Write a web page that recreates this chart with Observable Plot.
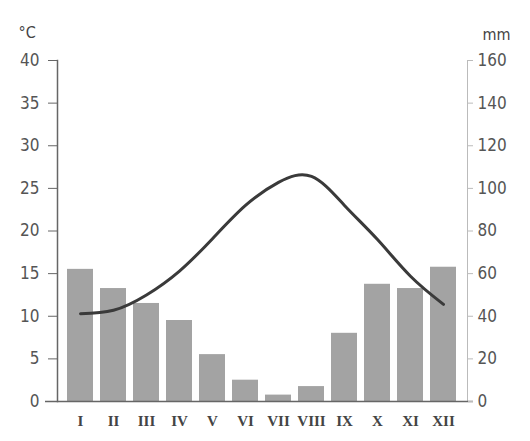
<!DOCTYPE html>
<html>
<head>
<meta charset="utf-8">
<script src="https://cdn.jsdelivr.net/npm/d3@7"></script>
<script src="https://cdn.jsdelivr.net/npm/@observablehq/plot@0.6"></script>
<style>
  body { margin: 0; background: #fff; }
  #chart { width: 530px; height: 441px; }
</style>
</head>
<body>
<div id="chart"></div>
<script>
const months = ["I","II","III","IV","V","VI","VII","VIII","IX","X","XI","XII"];
const precipitation = [62, 53, 46, 38, 22, 10, 3, 7, 32, 55, 53, 63];
const temperature = [10.3, 10.7, 12.5, 15.3, 19.1, 23, 25.7, 26.4, 23, 19, 14.7, 11.4];
const tempTicks = [0, 5, 10, 15, 20, 25, 30, 35, 40];
const precipTicks = [0, 20, 40, 60, 80, 100, 120, 140, 160];

// 40 °C on the left axis sits level with 160 mm on the right axis
const ratio = 160 / 40;
const table = months.map((m, i) => ({month: m, p: precipitation[i], t: temperature[i] * ratio}));

const font = "'Liberation Sans Narrow', 'DejaVu Sans Condensed', sans-serif";

const chart = Plot.plot({
  width: 530,
  height: 441,
  marginLeft: 57,
  marginRight: 63,
  marginTop: 60,
  marginBottom: 40,
  style: {fontFamily: font, background: "#fff", color: "#555"},
  x: {type: "band", domain: months, padding: 0.2, paddingOuter: 0.2, label: null},
  y: {domain: [0, 160], label: null},
  marks: [
    Plot.barY(table, {x: "month", y: "p", fill: "#a3a3a3"}),
    Plot.lineY(table, {x: "month", y: "t", stroke: "#3a3a3a", strokeWidth: 3, curve: "natural"}),
    Plot.frame({anchor: "left", stroke: "#666", strokeWidth: 1.5}),
    Plot.frame({anchor: "right", stroke: "#bbb", strokeWidth: 1}),
    Plot.ruleY([0], {stroke: "#666", strokeWidth: 1.5, insetLeft: -12, insetRight: -6}),
    Plot.axisY({anchor: "left", ticks: tempTicks.map(d => d * ratio), tickFormat: d => d / ratio,
      tickSize: 9, tickPadding: 9, fontSize: 17, stroke: "#666", fill: "#555", label: null}),
    Plot.axisY({anchor: "right", ticks: precipTicks, tickFormat: d => d,
      tickSize: 5, tickPadding: 5, fontSize: 17, stroke: "#bbb", fill: "#555", label: null}),
    Plot.axisX({tickSize: 0, tickPadding: 14, fontSize: 15, fill: "#444", fontWeight: "bold", fontFamily: "'Liberation Serif', serif", label: null}),
    Plot.text(["°C"], {frameAnchor: "top-left", dx: -39, dy: -34, fontSize: 16, fill: "#444"}),
    Plot.text(["mm"], {frameAnchor: "top-right", dx: 43, dy: -32, fontSize: 16, fill: "#444"})
  ]
});
document.getElementById("chart").appendChild(chart);
</script>
</body>
</html>
